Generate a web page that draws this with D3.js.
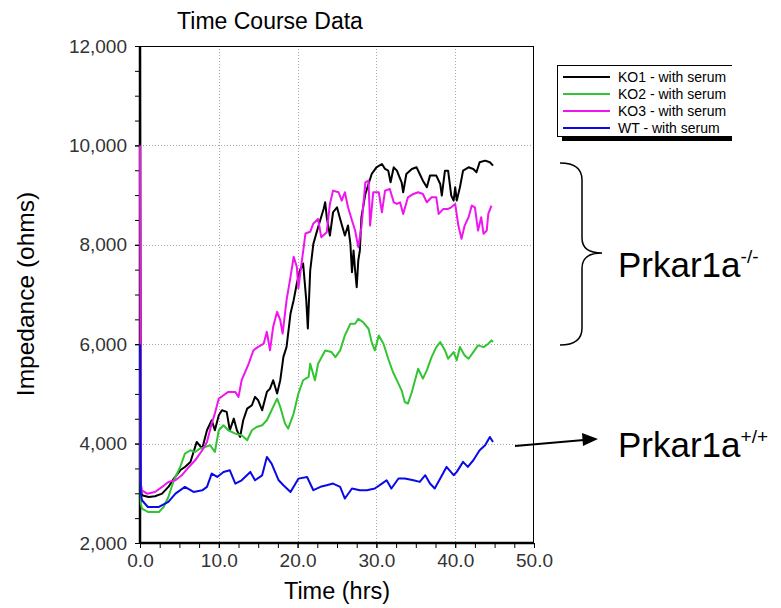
<!DOCTYPE html>
<html>
<head>
<meta charset="utf-8">
<script src="https://cdn.jsdelivr.net/npm/d3@7"></script>
<style>
  html, body { margin: 0; padding: 0; background: #fff; }
  svg { display: block; font-family: "Liberation Sans", Arial, sans-serif; }
</style>
</head>
<body>
<svg id="chart" width="781" height="608"></svg>
<script>
// Time course impedance: [hours, ohms]
var ko1 = [[0,12000],[0.1,3100],[0.25,2960],[1.1,2926],[1.9,2940],[2.8,2993],[3.6,3128],[4.3,3295],[5.1,3463],[5.7,3530],[6.4,3631],[7.2,4034],[7.9,3899],[8.5,4268],[9.1,4470],[9.5,4268],[10,4570],[10.4,4671],[11,4638],[11.4,4268],[11.9,4503],[12.3,4268],[12.7,4134],[13.1,4470],[13.6,4705],[14.2,4772],[14.6,4940],[15,4872],[15.5,4671],[16.1,5040],[16.5,5107],[16.9,5275],[17.4,5007],[17.8,5275],[18.2,5745],[18.6,5946],[19.1,6617],[19.5,6886],[19.9,7222],[20.3,7490],[20.7,7624],[21.1,6886],[21.3,6315],[21.6,7483],[22,8019],[22.6,8354],[23.3,8722],[23.5,8856],[23.7,8555],[24.1,8186],[24.5,8655],[25,8755],[25.4,8521],[26,8186],[26.4,8387],[26.7,8019],[26.9,7449],[27.1,7885],[27.3,7483],[27.5,7148],[27.7,7684],[27.9,7885],[28.1,8555],[28.6,9023],[29,9224],[29.4,9425],[30,9559],[30.7,9626],[31.1,9526],[31.5,9492],[31.8,9258],[32.2,9559],[32.6,9492],[33.2,9258],[33.4,9057],[33.8,9425],[34.5,9526],[35.1,9559],[35.5,9425],[35.9,9291],[36.4,9157],[36.8,9392],[37.2,9392],[37.6,9392],[38.1,9224],[38.3,8990],[38.7,9492],[39.1,9492],[39.5,8990],[39.8,8889],[40,9157],[40.2,8889],[40.6,9157],[41,9492],[41.7,9559],[42.3,9526],[42.7,9459],[43.1,9660],[43.8,9693],[44.4,9660],[44.8,9593]];

var ko2 = [[0,5800],[0.1,2800],[0.25,2691],[1,2624],[2.4,2624],[3,2725],[3.6,2926],[4.3,3262],[5.1,3530],[5.7,3799],[6.4,3866],[7,3832],[7.6,3899],[8.3,3933],[8.9,3966],[9.5,3832],[10,4268],[10.6,4369],[11.2,4268],[12.1,4201],[12.9,4168],[13.6,4067],[14.2,4268],[14.8,4335],[15.5,4369],[16.1,4470],[16.7,4671],[17.4,4906],[17.8,4738],[18.4,4403],[18.8,4302],[19.5,4604],[20.1,5007],[20.7,5275],[21.4,5342],[21.6,5607],[22.2,5273],[22.6,5607],[23.5,5875],[24.3,5842],[24.8,5741],[25.4,5875],[26,6177],[26.7,6411],[27.3,6411],[27.7,6512],[28.3,6445],[29,6311],[29.4,6043],[29.8,5875],[30.3,6177],[30.9,6009],[31.5,5708],[32.1,5440],[32.8,5206],[33.2,5072],[33.6,4837],[34,4804],[34.5,5038],[34.9,5273],[35.3,5507],[35.9,5306],[36.4,5474],[37,5741],[37.6,5942],[38.1,6043],[38.7,5875],[39.1,5708],[39.8,5842],[40.2,5675],[40.6,5942],[41.2,5775],[41.7,5708],[42.3,5842],[42.9,5976],[43.6,5942],[44.2,6009],[44.6,6076],[44.8,6043]];

var ko3 = [[0,10000],[0.1,3200],[0.25,3060],[0.9,2993],[1.9,3027],[2.8,3128],[3.6,3228],[4.5,3262],[5.3,3362],[6.2,3530],[7,3664],[7.9,3866],[8.5,4034],[9.1,4403],[9.5,4604],[10,4906],[10.6,4973],[11.2,5040],[12.1,5040],[12.5,4940],[12.9,5275],[13.8,5611],[14.4,5879],[15,5946],[15.7,6013],[16.1,6248],[16.5,5879],[16.9,6349],[17.4,6651],[17.8,6483],[18.1,6215],[18.6,6886],[19.1,7356],[19.5,7758],[19.9,7557],[20.1,7121],[20.5,7624],[21,8228],[21.6,8262],[22,8430],[22.6,8521],[23,8153],[23.7,8253],[24.1,8822],[24.5,9090],[25.2,9057],[25.6,8889],[26,9057],[26.4,8755],[26.9,8488],[27.3,8287],[27.7,7952],[28.1,8354],[28.6,9258],[29,9291],[29.2,8387],[29.6,9057],[30.3,9057],[30.7,8655],[31.1,9090],[31.7,9124],[32.2,8855],[32.6,8822],[33,8855],[33.4,8621],[34,8956],[34.7,9023],[35.3,9057],[35.9,9023],[36.4,8855],[37,8956],[37.6,8956],[37.9,8621],[38.5,8722],[39.1,8722],[39.5,8755],[40,8822],[40.4,8387],[40.8,8119],[41.2,8387],[41.7,8555],[42.1,8789],[42.5,8755],[42.9,8287],[43.3,8555],[43.6,8220],[44,8287],[44.2,8621],[44.6,8789]];

var wt = [[0,6000],[0.1,3000],[0.25,2860],[1,2725],[2.4,2725],[3.6,2826],[4.5,2993],[5.7,3128],[6.8,3027],[7.9,3060],[8.5,3128],[9.1,3396],[9.8,3329],[10.6,3430],[11.4,3463],[12.1,3195],[12.9,3262],[14,3430],[14.6,3262],[15.5,3362],[16.1,3732],[16.7,3597],[17.6,3262],[18.2,3161],[19.1,3027],[20.1,3295],[21.2,3329],[22,3062],[22.9,3130],[23.7,3163],[24.5,3196],[25.4,3130],[26,2895],[26.9,3096],[27.9,3062],[28.8,3062],[29.8,3096],[30.7,3196],[31.3,3263],[31.9,3096],[32.8,3297],[33.6,3297],[34.7,3263],[35.5,3230],[36.2,3364],[36.8,3196],[37.4,3096],[38.1,3297],[38.9,3531],[39.8,3364],[40.2,3431],[41,3632],[41.6,3531],[42.3,3665],[43.1,3866],[43.8,3967],[44.4,4134],[44.8,4033]];

var seriesNames = ['KO1 - with serum', 'KO2 - with serum', 'KO3 - with serum', 'WT - with serum'];
var seriesColors = ['#000000', '#33c433', '#f014f0', '#0a0ae6'];
var seriesData = [ko1, ko2, ko3, wt];

var xTicks = [0, 10, 20, 30, 40, 50];
var yTicks = [2000, 4000, 6000, 8000, 10000, 12000];

var svg = d3.select('#chart');

var x = d3.scaleLinear().domain([0, 50]).range([140, 534]);
var y = d3.scaleLinear().domain([2000, 12000]).range([543, 46]);

// dotted grid
var grid = svg.append('g').attr('stroke', '#a8a8a8').attr('stroke-width', 1).attr('stroke-dasharray', '1,2');
grid.selectAll('.gx').data(xTicks.slice(1, -1)).join('line')
  .attr('x1', function (d) { return Math.round(x(d)) + 0.5; })
  .attr('x2', function (d) { return Math.round(x(d)) + 0.5; })
  .attr('y1', y(12000)).attr('y2', y(2000));
grid.selectAll('.gy').data(yTicks.slice(1, -1)).join('line')
  .attr('y1', function (d) { return Math.round(y(d)) + 0.5; })
  .attr('y2', function (d) { return Math.round(y(d)) + 0.5; })
  .attr('x1', x(0)).attr('x2', x(50));

// frame: thin top/right, heavier left/bottom
svg.append('rect')
  .attr('x', x(0)).attr('y', y(12000) + 0.5)
  .attr('width', x(50) - x(0) - 0.5).attr('height', y(2000) - y(12000))
  .attr('fill', 'none').attr('stroke', '#000').attr('stroke-width', 1);

var tickFont = function (g) {
  g.select('.domain').remove();
  g.selectAll('text').attr('fill', '#333').style('font-size', '19px');
  g.selectAll('line').attr('stroke', '#000');
};

svg.append('g')
  .attr('transform', 'translate(0,' + y(2000) + ')')
  .call(d3.axisBottom(x).tickValues(d3.range(0, 50.1, 2.5)).tickSize(5).tickFormat(''))
  .call(tickFont);
svg.append('g')
  .attr('transform', 'translate(0,' + y(2000) + ')')
  .call(d3.axisBottom(x).tickValues(xTicks).tickSize(5).tickPadding(6).tickFormat(d3.format('.1f')))
  .call(tickFont);

svg.append('g')
  .attr('transform', 'translate(' + x(0) + ',0)')
  .call(d3.axisLeft(y).tickValues(d3.range(2000, 12001, 500)).tickSize(5).tickFormat(''))
  .call(tickFont);
svg.append('g')
  .attr('transform', 'translate(' + x(0) + ',0)')
  .call(d3.axisLeft(y).tickValues(yTicks).tickSize(5).tickPadding(8).tickFormat(d3.format(',')))
  .call(tickFont);

svg.append('line')
  .attr('x1', x(0)).attr('x2', x(0))
  .attr('y1', y(12000)).attr('y2', y(2000) + 1)
  .attr('stroke', '#000').attr('stroke-width', 2.5);
svg.append('line')
  .attr('x1', x(0)).attr('x2', x(50))
  .attr('y1', y(2000)).attr('y2', y(2000))
  .attr('stroke', '#000').attr('stroke-width', 2.5);

// data lines, drawn over the left axis so the start spikes show
svg.append('clipPath').attr('id', 'plotclip').append('rect')
  .attr('x', x(0) - 2).attr('y', y(12000) - 1)
  .attr('width', x(50) - x(0) + 2).attr('height', y(2000) - y(12000));

var line = d3.line()
  .x(function (d) { return x(d[0]); })
  .y(function (d) { return y(d[1]); });

svg.append('g').attr('clip-path', 'url(#plotclip)')
  .selectAll('path').data(seriesData).join('path')
  .attr('d', line)
  .attr('fill', 'none')
  .attr('stroke', function (d, i) { return seriesColors[i]; })
  .attr('stroke-width', 2)
  .attr('stroke-linejoin', 'round');

// titles
svg.append('text')
  .attr('x', 270).attr('y', 29)
  .attr('text-anchor', 'middle')
  .style('font-size', '23px')
  .text('Time Course Data');

svg.append('text')
  .attr('x', 337).attr('y', 599)
  .attr('text-anchor', 'middle')
  .style('font-size', '23.5px')
  .text('Time (hrs)');

svg.append('text')
  .attr('transform', 'translate(34,294) rotate(-90)')
  .attr('text-anchor', 'middle')
  .style('font-size', '24.5px')
  .text('Impedance (ohms)');

// legend, cut off at the right like the source image
svg.append('clipPath').attr('id', 'legclip').append('rect')
  .attr('x', 540).attr('y', 50).attr('width', 192).attr('height', 110);

var leg = svg.append('g').attr('clip-path', 'url(#legclip)');
leg.append('rect').attr('x', 562).attr('y', 70).attr('width', 200).attr('height', 71).attr('fill', '#000');
leg.append('rect').attr('x', 557.5).attr('y', 65.5).attr('width', 200).attr('height', 71)
  .attr('fill', '#fff').attr('stroke', '#000');

var rows = leg.selectAll('.row').data(seriesNames).join('g')
  .attr('transform', function (d, i) { return 'translate(0,' + (77 + i * 17) + ')'; });
rows.append('line')
  .attr('x1', 563).attr('x2', 610)
  .attr('stroke', function (d, i) { return seriesColors[i]; })
  .attr('stroke-width', 2);
rows.append('text')
  .attr('x', 618).attr('y', 5)
  .style('font-size', '14px')
  .text(function (d) { return d; });

// annotations
svg.append('path')
  .attr('d', 'M560,163 Q582,163 582,180 L582,238 Q582,253 602,253 Q582,253 582,268 L582,328 Q582,345 560,345')
  .attr('fill', 'none').attr('stroke', '#000').attr('stroke-width', 1.5);

var lab1 = svg.append('text').attr('x', 618).attr('y', 277).style('font-size', '35px');
lab1.append('tspan').text('Prkar1a');
lab1.append('tspan').attr('dy', -14).style('font-size', '19px').text('-/-');

svg.append('line')
  .attr('x1', 515).attr('y1', 446).attr('x2', 584).attr('y2', 440)
  .attr('stroke', '#000').attr('stroke-width', 2);
svg.append('path')
  .attr('d', 'M598,439 L582,433 L583,446 Z')
  .attr('fill', '#000');

var lab2 = svg.append('text').attr('x', 618).attr('y', 457).style('font-size', '35px');
lab2.append('tspan').text('Prkar1a');
lab2.append('tspan').attr('dy', -14).style('font-size', '19px').text('+/+');
</script>
</body>
</html>
